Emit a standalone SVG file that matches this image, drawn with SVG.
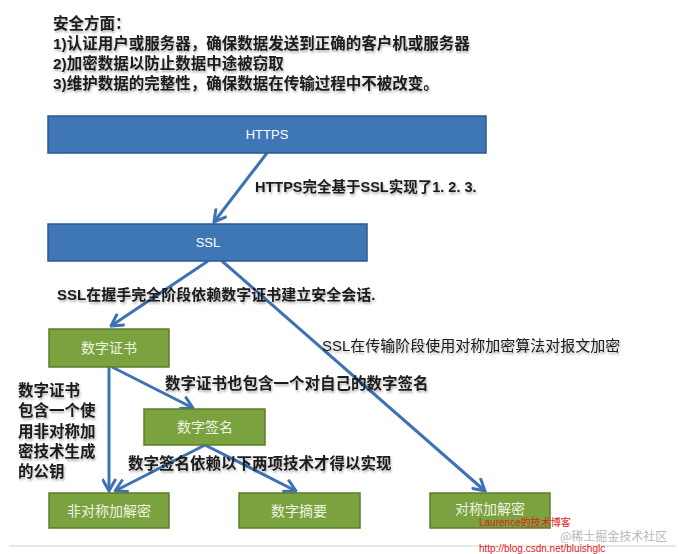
<svg xmlns="http://www.w3.org/2000/svg" width="678" height="554" viewBox="0 0 678 554">
<defs>
<style>
.lbl{font-family:"Liberation Sans","Noto Sans CJK SC",sans-serif;font-weight:bold;font-size:15.5px;fill:#1a1a1a}
.reg{font-weight:normal}
.blue{fill:#3f76b6;stroke:#2d5a8e;stroke-width:1.5}
.green{fill:#7aa23e;stroke:#5c7d2c;stroke-width:1.5}
.bt{font-family:"Liberation Sans","Noto Sans CJK SC",sans-serif;font-size:13px;fill:#ffffff;text-anchor:middle}
.gt{font-family:"Noto Sans CJK SC",sans-serif;font-size:14px;fill:#eef4e4;text-anchor:middle}
.con{stroke:#3d72b4;stroke-width:3;fill:none;marker-end:url(#ah)}
</style>
<marker id="ah" viewBox="0 0 10 10" refX="9" refY="5" markerWidth="5" markerHeight="5" orient="auto" markerUnits="strokeWidth">
<path d="M1,0.5 L9,5 L1,9.5" fill="none" stroke="#3d72b4" stroke-width="2"/>
</marker>
<filter id="sh" x="-5%" y="-30%" width="110%" height="160%">
<feDropShadow dx="1" dy="2" stdDeviation="1.2" flood-color="#000" flood-opacity="0.3"/>
</filter>
</defs>
<rect width="678" height="554" fill="#ffffff"/>

<g id="intro" class="lbl" filter="url(#sh)">
<text x="53" y="29">安全方面：</text>
<text x="53" y="49">1)认证用户或服务器，确保数据发送到正确的客户机或服务器</text>
<text x="53" y="69">2)加密数据以防止数据中途被窃取</text>
<text x="53" y="89">3)维护数据的完整性，确保数据在传输过程中不被改变。</text>
</g>

<g id="connectors">
<line class="con" x1="267" y1="153" x2="214" y2="222"/>
<line class="con" x1="208" y1="261" x2="111" y2="326"/>
<line class="con" x1="222" y1="261" x2="485" y2="491"/>
<line class="con" x1="109" y1="367" x2="109" y2="491"/>
<line class="con" x1="112" y1="367" x2="193" y2="408"/>
<line class="con" x1="205" y1="445" x2="115" y2="491"/>
<line class="con" x1="205" y1="445" x2="296" y2="491"/>
</g>

<g id="n-https"><rect class="blue" x="48" y="116" width="438" height="37"/><text class="bt" x="267" y="139">HTTPS</text></g>
<g id="n-ssl"><rect class="blue" x="48" y="224" width="319" height="37"/><text class="bt" x="208" y="247">SSL</text></g>
<g id="n-cert"><rect class="green" x="49" y="329" width="120" height="38"/><text class="gt" x="109" y="353">数字证书</text></g>
<g id="n-sign"><rect class="green" x="144" y="409" width="121" height="36"/><text class="gt" x="205" y="432">数字签名</text></g>
<g id="n-asym"><rect class="green" x="49" y="493" width="120" height="35"/><text class="gt" x="109" y="516">非对称加解密</text></g>
<g id="n-digest"><rect class="green" x="239" y="493" width="121" height="35"/><text class="gt" x="299" y="516">数字摘要</text></g>
<g id="n-sym"><rect class="green" x="430" y="493" width="120" height="35"/><text class="gt" x="490" y="514">对称加解密</text></g>

<g id="labels" class="lbl" filter="url(#sh)">
<text x="255" y="192" font-size="14.5">HTTPS完全基于SSL实现了1. 2. 3.</text>
<text x="57" y="300" font-size="15">SSL在握手完全阶段依赖数字证书建立安全会话.</text>
<text x="322" y="351" class="reg" font-size="15">SSL在传输阶段使用对称加密算法对报文加密</text>
<text x="165" y="389">数字证书也包含一个对自己的数字签名</text>
<text x="128" y="469">数字签名依赖以下两项技术才得以实现</text>
<text x="18" y="396">数字证书</text>
<text x="18" y="416">包含一个使</text>
<text x="18" y="437">用非对称加</text>
<text x="18" y="457">密技术生成</text>
<text x="18" y="477">的公钥</text>
</g>

<line x1="9" y1="546" x2="676" y2="546" stroke="#d0d0d0" stroke-width="1"/>
<g id="watermark">
<text x="479" y="526" font-family="Liberation Sans,Noto Sans CJK SC,sans-serif" font-size="10" fill="#e02020">Laurence的技术博客</text>
<text x="560" y="541" font-family="Noto Sans CJK SC,sans-serif" font-size="12" fill="#b8b8b8">@稀土掘金技术社区</text>
<text x="479" y="552" font-family="Liberation Sans,sans-serif" font-size="10" fill="#e02020">http://blog.csdn.net/bluishglc</text>
</g>
</svg>
